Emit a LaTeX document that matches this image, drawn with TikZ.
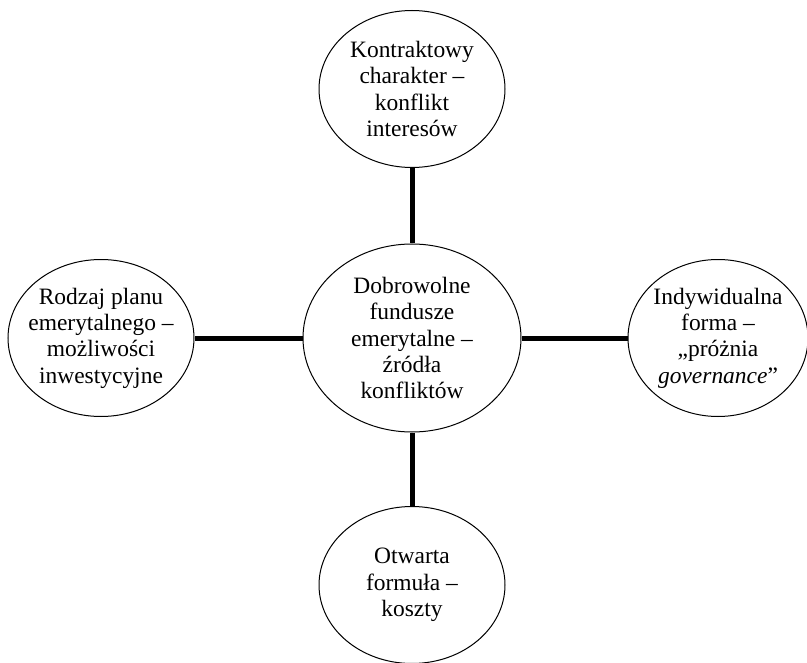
\documentclass[tikz,border=0pt]{standalone}
\usepackage{fontspec}
\setmainfont{Liberation Serif}
\usetikzlibrary{shapes.geometric}

\tikzset{
    topic/.style={ellipse, draw, line width=0.75pt, inner sep=0pt, inner xsep=-9pt,
        minimum width=139.5pt, minimum height=117.75pt, align=center,
        font=\fontsize{17.6}{19.8}\selectfont},
    link/.style={line width=3.75pt}
}

\begin{document}
\begin{tikzpicture}[x=0.75pt,y=-0.75pt]
    \useasboundingbox (0,0) rectangle (807,663);

    % Centre
    \node[topic, minimum width=163.5pt, minimum height=141pt] (fundusze) at (412,338)
        {Dobrowolne\\ fundusze\\ emerytalne –\\ źródła\\ konfliktów};

    % Sources
    \node[topic] (kontrakt) at (412,89) {Kontraktowy\\ charakter –\\ konflikt\\ interesów};
    \node[topic] (plan) at (101,338) {Rodzaj planu\\ emerytalnego –\\ możliwości\\ inwestycyjne};
    \node[topic, minimum width=135pt] (forma) at (718,338)
        {Indywidualna\\ forma –\\ „próżnia\\ \textit{governance}”};
    \node[topic] (formula) at (412,585) {Otwarta\\ formuła –\\ koszty};

    % Links
    \draw[link] (fundusze) -- (kontrakt);
    \draw[link] (fundusze) -- (plan);
    \draw[link] (fundusze) -- (forma);
    \draw[link] (fundusze) -- (formula);
\end{tikzpicture}
\end{document}
